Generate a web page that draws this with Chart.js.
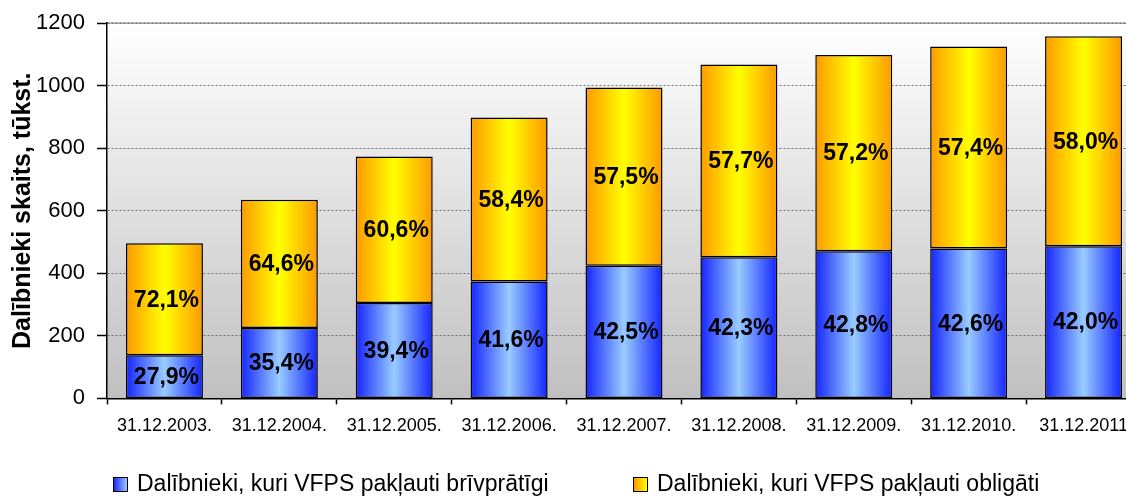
<!DOCTYPE html>
<html>
<head>
<meta charset="utf-8">
<script src="https://cdn.jsdelivr.net/npm/chart.js@4"></script>
<style>
  html, body { margin: 0; background: #fff; overflow: hidden; }
  #wrap { position: relative; width: 1126px; height: 498px; overflow: hidden; }
  .leg { position: absolute; top: 470px; font: 23px "Liberation Sans", Arial, sans-serif; line-height: 26px; color: #000; white-space: nowrap; }
  .leg span.box { display: inline-block; width: 13px; height: 13px; border: 1px solid #000; margin-right: 9px; vertical-align: -1px; }
</style>
</head>
<body>
<div id="wrap">
  <canvas id="chart" width="1145" height="498"></canvas>
  <div class="leg" style="left:113px"><span class="box" style="background:linear-gradient(to right,#1a2cff,#9cc8ff)"></span>Dalībnieki, kuri VFPS pakļauti brīvprātīgi</div>
  <div class="leg" style="left:633px"><span class="box" style="background:linear-gradient(to right,#ff9900,#ffff00)"></span>Dalībnieki, kuri VFPS pakļauti obligāti</div>
</div>
<script>
var categories = ["31.12.2003.", "31.12.2004.", "31.12.2005.", "31.12.2006.", "31.12.2007.", "31.12.2008.", "31.12.2009.", "31.12.2010.", "31.12.2011"];
var voluntary = [138, 225, 305, 374, 424, 451, 470, 479, 486];
var mandatory = [358, 410, 468, 524, 570, 616, 628, 646, 672];
var voluntaryPct = ["27,9%", "35,4%", "39,4%", "41,6%", "42,5%", "42,3%", "42,8%", "42,6%", "42,0%"];
var mandatoryPct = ["72,1%", "64,6%", "60,6%", "58,4%", "57,5%", "57,7%", "57,2%", "57,4%", "58,0%"];
var yTicks = [0, 200, 400, 600, 800, 1000, 1200];

var FONT = '"Liberation Sans", Arial, sans-serif';
var BAR_PCT = 0.67;

// plot background: white at top, grey at bottom
var plotBg = {
    id: 'plotBg',
    beforeDraw: function(chart) {
        var a = chart.chartArea, ctx = chart.ctx;
        var g = ctx.createLinearGradient(0, a.top, 0, a.bottom);
        g.addColorStop(0, '#ffffff');
        g.addColorStop(1, '#c0c0c0');
        ctx.save();
        ctx.fillStyle = g;
        ctx.fillRect(a.left, a.top, a.right - a.left, a.bottom - a.top);
        ctx.strokeStyle = '#b8b8b8';
        ctx.lineWidth = 2;
        ctx.beginPath();
        ctx.moveTo(a.left, a.top);
        ctx.lineTo(a.right, a.top);
        ctx.stroke();
        ctx.restore();
    }
};

// horizontal gradient for one bar, edge colour -> centre colour -> edge colour
function barGradient(edge, centre) {
    return function(c) {
        var chart = c.chart, xs = chart.scales.x;
        if (c.type !== 'data' || !xs || !chart.chartArea) return edge;
        var cx = xs.getPixelForValue(c.dataIndex);
        var w = xs.width / categories.length * BAR_PCT;
        var g = chart.ctx.createLinearGradient(cx - w / 2, 0, cx + w / 2, 0);
        g.addColorStop(0, edge);
        g.addColorStop(0.5, centre);
        g.addColorStop(1, edge);
        return g;
    };
}

// percentage labels in the middle of each segment
var pctLabels = {
    id: 'pctLabels',
    afterDatasetsDraw: function(chart) {
        var ctx = chart.ctx;
        var labels = [voluntaryPct, mandatoryPct];
        ctx.save();
        ctx.font = 'bold 23px ' + FONT;
        ctx.fillStyle = '#000';
        ctx.textAlign = 'center';
        ctx.textBaseline = 'middle';
        chart.data.datasets.forEach(function(ds, i) {
            chart.getDatasetMeta(i).data.forEach(function(bar, j) {
                var y = (bar.y + bar.base) / 2;
                ctx.fillText(labels[i][j], bar.x + 2, y + 1);
            });
        });
        ctx.restore();
    }
};

new Chart(document.getElementById('chart'), {
    type: 'bar',
    data: {
        labels: categories,
        datasets: [{
            label: 'Dalībnieki, kuri VFPS pakļauti brīvprātīgi',
            data: voluntary,
            backgroundColor: barGradient('#1424ff', '#99ccff'),
            borderColor: '#000',
            borderWidth: 1.5,
            borderSkipped: false
        }, {
            label: 'Dalībnieki, kuri VFPS pakļauti obligāti',
            data: mandatory,
            backgroundColor: barGradient('#ff9900', '#ffff00'),
            borderColor: '#000',
            borderWidth: 1.5,
            borderSkipped: false
        }]
    },
    options: {
        responsive: false,
        animation: false,
        categoryPercentage: BAR_PCT,
        barPercentage: 1,
        layout: { padding: { top: 23, right: 4, bottom: 50, left: 8 } },
        plugins: {
            legend: { display: false },
            tooltip: { enabled: false }
        },
        scales: {
            x: {
                stacked: true,
                grid: { offset: true, drawOnChartArea: false, drawTicks: true, tickLength: 6, tickColor: '#000', tickWidth: 1.5 },
                border: { color: '#000', width: 1.5 },
                ticks: { color: '#000', font: { family: FONT, size: 18 }, maxRotation: 0, padding: 11 }
            },
            y: {
                stacked: true,
                min: 0,
                max: 1200,
                afterBuildTicks: function(axis) {
                    axis.ticks = yTicks.map(function(v) { return { value: v }; });
                },
                afterFit: function(axis) {
                    axis.width = 99;
                    axis.paddingTop = 0;
                    axis.paddingBottom = 0;
                },
                grid: { color: '#707070', lineWidth: 1, tickLength: 10, tickColor: '#000', tickWidth: 1.5 },
                border: { color: '#000', width: 1.5, dash: [2, 2] },
                ticks: {
                    color: '#000',
                    font: { family: FONT, size: 22 },
                    padding: 12,
                    callback: function(v) { return String(v); }
                },
                title: {
                    display: true,
                    text: 'Dalībnieki skaits, tūkst.',
                    color: '#000',
                    font: { family: FONT, size: 25, weight: 'bold' },
                    padding: 0
                }
            }
        }
    },
    plugins: [plotBg, pctLabels]
});
</script>
</body>
</html>
